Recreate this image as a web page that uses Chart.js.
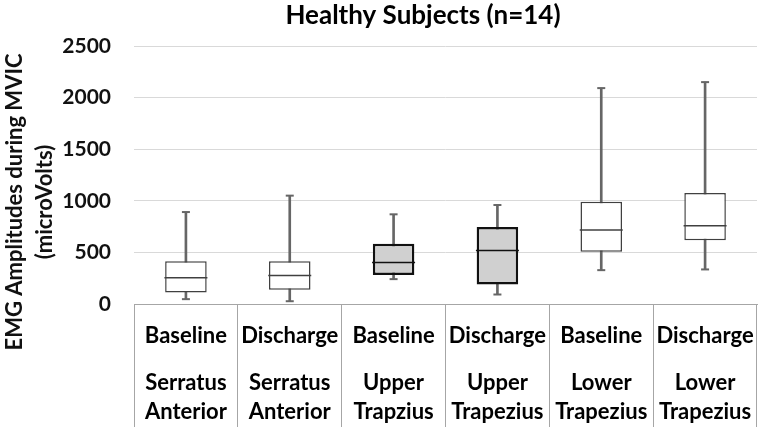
<!DOCTYPE html>
<html>
<head>
<meta charset="utf-8">
<script src="https://cdn.jsdelivr.net/npm/chart.js@4"></script>
<style>
  html, body { margin: 0; padding: 0; background: #fff; }
  #wrap { width: 780px; height: 432px; }
</style>
</head>
<body>
<div id="wrap"><canvas id="boxChart" width="780" height="432"></canvas></div>
<script>
// Datos (microVolts)
const condiciones = ["Baseline", "Discharge", "Baseline", "Discharge", "Baseline", "Discharge"];
const musculos = [
    ["Serratus", "Anterior"],
    ["Serratus", "Anterior"],
    ["Upper", "Trapzius"],
    ["Upper", "Trapezius"],
    ["Lower", "Trapezius"],
    ["Lower", "Trapezius"]
];
const minimos = [47, 27, 241, 92, 328, 335];
const q1 = [112, 138, 280, 189, 507, 617];
const medianas = [254, 277, 403, 519, 717, 759];
const q3 = [415, 415, 584, 746, 992, 1076];
const maximos = [891, 1050, 869, 959, 2092, 2150];
const ticksY = [0, 500, 1000, 1500, 2000, 2500];
const titulo = "Healthy Subjects (n=14)";
const tituloY = ["EMG Amplitudes during MVIC", "(microVolts)"];

const etiquetas = condiciones.map((c, i) => c + " " + musculos[i].join(" "));
const rellenos = ["#ffffff", "#ffffff", "#d0d0d0", "#d0d0d0", "#ffffff", "#ffffff"];
const bordes = ["#404040", "#404040", "#111111", "#111111", "#404040", "#404040"];
const grosores = [1.5, 1.5, 2.5, 2.5, 1.5, 1.5];

const FUENTE = "Lato, 'Open Sans', sans-serif";

// Plugin para los títulos y la tabla de etiquetas del eje x
const textosPlugin = {
    id: "textos",
    afterDraw(chart) {
        const ctx = chart.ctx;
        const x = chart.scales.x;
        ctx.save();
        ctx.fillStyle = "#000";
        ctx.textAlign = "center";
        ctx.textBaseline = "middle";
        ctx.font = "bold 26px " + FUENTE;
        ctx.fillText(titulo, 423, 16);

        ctx.font = "bold 22px " + FUENTE;
        condiciones.forEach((c, i) => {
            const px = x.getPixelForValue(i);
            ctx.fillText(c, px, x.top + 32);
            ctx.fillText(musculos[i][0], px, x.top + 79);
            ctx.fillText(musculos[i][1], px, x.top + 108);
        });

        // título del eje y (girado)
        ctx.fillStyle = "#111";
        ctx.font = "bold 22px " + FUENTE;
        ctx.translate(15, 202);
        ctx.rotate(-Math.PI / 2);
        tituloY.forEach((t, i) => ctx.fillText(t, 0, i * 30));
        ctx.restore();
    }
};

const ctx = document.getElementById("boxChart").getContext("2d");

new Chart(ctx, {
    type: "bar",
    data: {
        labels: etiquetas,
        datasets: [
            {
                // mediana
                type: "line",
                data: medianas,
                showLine: false,
                pointStyle: "line",
                pointRadius: 21.5,
                pointBorderWidth: 1.5,
                pointBorderColor: bordes,
                order: 0
            },
            {
                // tope superior
                type: "line",
                data: maximos,
                showLine: false,
                pointStyle: "line",
                pointRadius: 4,
                pointBorderWidth: 2,
                pointBorderColor: "#666666",
                order: 1
            },
            {
                // tope inferior
                type: "line",
                data: minimos,
                showLine: false,
                pointStyle: "line",
                pointRadius: 4,
                pointBorderWidth: 2,
                pointBorderColor: "#666666",
                order: 1
            },
            {
                // caja q1-q3
                data: q1.map((v, i) => [v, q3[i]]),
                backgroundColor: rellenos,
                borderColor: bordes,
                borderWidth: grosores,
                borderSkipped: false,
                grouped: false,
                barPercentage: 0.4,
                categoryPercentage: 1,
                order: 2
            },
            {
                // bigote min-max
                data: minimos.map((v, i) => [v, maximos[i]]),
                backgroundColor: "#666666",
                barThickness: 2,
                grouped: false,
                order: 3
            }
        ]
    },
    options: {
        responsive: false,
        animation: false,
        layout: { padding: { top: 46, right: 3, left: 0, bottom: 0 } },
        plugins: {
            legend: { display: false },
            tooltip: { enabled: false },
            title: { display: false }
        },
        scales: {
            x: {
                offset: true,
                grid: {
                    offset: true,
                    drawOnChartArea: false,
                    tickLength: 123,
                    color: "#a6a6a6",
                    lineWidth: 1
                },
                border: { color: "#a6a6a6", width: 1 },
                ticks: { display: false },
                afterFit(scale) { scale.height = 128; }
            },
            y: {
                min: 0,
                max: 2500,
                afterBuildTicks(scale) { scale.ticks = ticksY.map(v => ({ value: v })); },
                grid: { color: "#d9d9d9", lineWidth: 1, drawTicks: false },
                border: { display: false },
                ticks: {
                    padding: 23,
                    color: "#111",
                    font: { family: FUENTE, size: 21, weight: "bold" },
                    callback: (v) => String(v)
                },
                afterFit(scale) { scale.width = 134; }
            }
        }
    },
    plugins: [textosPlugin]
});
</script>
</body>
</html>
